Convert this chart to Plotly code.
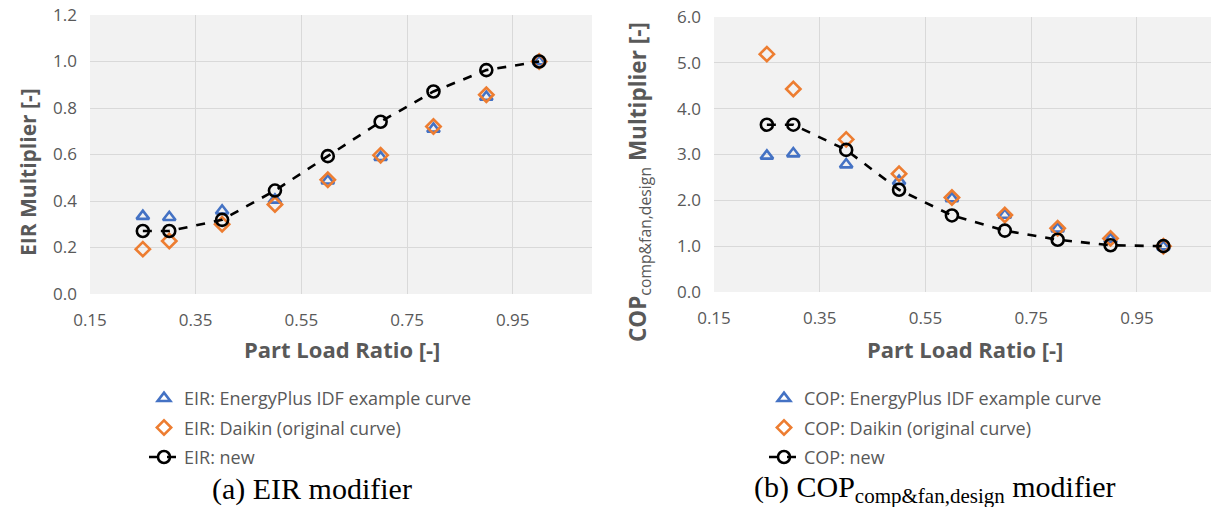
import plotly.graph_objects as go

# Part load ratio sample points
plr = [0.25, 0.3, 0.4, 0.5, 0.6, 0.7, 0.8, 0.9, 1.0]

# EIR modifier curves
eir_energyplus = [0.335, 0.33, 0.358, 0.405, 0.487, 0.588, 0.71, 0.847, 1.0]
eir_daikin = [0.193, 0.228, 0.30, 0.385, 0.491, 0.597, 0.72, 0.857, 1.0]
eir_new = [0.271, 0.271, 0.319, 0.445, 0.593, 0.741, 0.871, 0.963, 1.0]

# COP modifier curves
cop_energyplus = [2.97, 3.02, 2.78, 2.42, 2.04, 1.68, 1.38, 1.15, 0.99]
cop_daikin = [5.19, 4.43, 3.33, 2.58, 2.06, 1.68, 1.39, 1.17, 1.0]
cop_new = [3.65, 3.65, 3.10, 2.23, 1.67, 1.34, 1.14, 1.02, 1.0]

x_ticks = [0.15, 0.35, 0.55, 0.75, 0.95]

W, H = 1211, 507
BLUE = "#4472C4"
ORANGE = "#ED7D31"
GRAY = "#595959"
FONT = "Open Sans"


def px(x):
    return x / W


def py(y):
    return 1 - y / H


fig = go.Figure()


def add_panel(xa, ya, leg, prefix, ep, dk, nw):
    fig.add_trace(go.Scatter(
        x=plr, y=ep, mode="markers", name=f"{prefix}: EnergyPlus IDF example curve",
        marker=dict(symbol="triangle-up-open", size=11, color=BLUE, line=dict(width=2.6, color=BLUE)),
        xaxis=xa, yaxis=ya, legend=leg, legendgroup=f"{leg}a"))
    fig.add_trace(go.Scatter(
        x=plr, y=dk, mode="markers", name=f"{prefix}: Daikin (original curve)",
        marker=dict(symbol="diamond-open", size=11, color=ORANGE, line=dict(width=2.6, color=ORANGE)),
        xaxis=xa, yaxis=ya, legend=leg, legendgroup=f"{leg}b"))
    fig.add_trace(go.Scatter(
        x=plr, y=nw, mode="lines+markers", name=f"{prefix}: new",
        line=dict(color="black", width=2.6, dash="dash"),
        marker=dict(symbol="circle-open", size=12, color="black", line=dict(width=2.6, color="black")),
        xaxis=xa, yaxis=ya, legend=leg, legendgroup=f"{leg}c"))


add_panel("x", "y", "legend", "EIR", eir_energyplus, eir_daikin, eir_new)
add_panel("x2", "y2", "legend2", "COP", cop_energyplus, cop_daikin, cop_new)

axis_common = dict(
    showgrid=True, gridcolor="#d9d9d9", gridwidth=1,
    zeroline=False, showline=False, ticks="", automargin=False,
    tickfont=dict(family=FONT, size=17, color=GRAY),
)

legend_common = dict(
    xanchor="left", yanchor="top", bgcolor="rgba(0,0,0,0)",
    font=dict(family=FONT, size=18, color=GRAY),
    tracegroupgap=3, traceorder="grouped", itemwidth=30,
)

fig.update_layout(
    width=W, height=H, autosize=False,
    margin=dict(l=0, r=0, t=0, b=0, autoexpand=False),
    paper_bgcolor="white", plot_bgcolor="#f2f2f2",
    font=dict(family=FONT, color=GRAY),
    xaxis=dict(domain=[px(90), px(592)], range=[0.15, 1.1], tickvals=x_ticks,
               ticktext=[f"{v:.2f}" for v in x_ticks], ticklabelstandoff=14, anchor="y", **axis_common),
    yaxis=dict(domain=[py(294), py(15)], range=[0, 1.2], dtick=0.2, tick0=0, tickformat=".1f",
               ticklabelstandoff=12, anchor="x", **axis_common),
    xaxis2=dict(domain=[px(714), 1.0], range=[0.15, 1.09], tickvals=x_ticks,
                ticktext=[f"{v:.2f}" for v in x_ticks], ticklabelstandoff=14, anchor="y2", **axis_common),
    yaxis2=dict(domain=[py(292), py(17)], range=[0, 6], dtick=1, tick0=0, tickformat=".1f",
                ticklabelstandoff=12, anchor="x2", **axis_common),
    legend=dict(x=px(144), y=py(380), **legend_common),
    legend2=dict(x=px(764), y=py(380), **legend_common),
)

title_font = dict(family=FONT, size=21, color=GRAY)
caption_font = dict(family="Liberation Serif", size=30, color="black")
annotations = [
    dict(text="<b>EIR Multiplier [-]</b>", x=px(28), y=py(172), textangle=-90, font=title_font),
    dict(text="<b>COP</b><sub>comp&amp;fan,design</sub><b> Multiplier [-]</b>",
         x=px(639), y=py(182), textangle=-90, font=dict(title_font, size=22.5)),
    dict(text="<b>Part Load Ratio [-]</b>", x=px(342), y=py(349), font=dict(title_font, size=22)),
    dict(text="<b>Part Load Ratio [-]</b>", x=px(965), y=py(349), font=dict(title_font, size=22)),
    dict(text="(a) EIR modifier", x=px(312), y=py(489), font=caption_font),
    dict(text="(b) COP<sub>comp&amp;fan,design</sub> modifier", x=px(935), y=py(489), font=caption_font),
]
for a in annotations:
    a.update(xref="paper", yref="paper", showarrow=False, xanchor="center", yanchor="middle")
fig.update_layout(annotations=annotations)

fig.write_html("out.html")
